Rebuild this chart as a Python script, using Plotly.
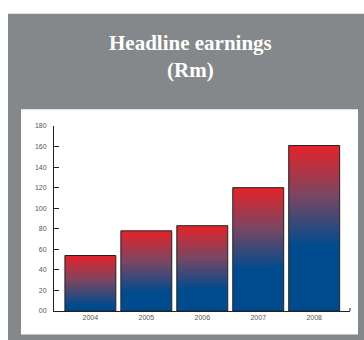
import plotly.graph_objects as go

# Headline earnings (Rm) per financial year
years = ["2004", "2005", "2006", "2007", "2008"]
earnings = [54, 78, 83, 120, 161]

y_ticks = [0, 20, 40, 60, 80, 100, 120, 140, 160, 180]
y_tick_text = ["00", "20", "40", "60", "80", "100", "120", "140", "160", "180"]

BAR_WIDTH = 0.91
RED = "#e52329"
PURPLE = "#7a4662"
BLUE = "#004b8d"
FRAME = "#85888b"

# plot area in pixels: x 54..350, y 125.7..311.4
PW, PH = 296, 185.7


def px_x(p):
    return (p - 54) / PW


def px_y(p):
    return (311.4 - p) / PH


fig = go.Figure()

for i, (yr, v) in enumerate(zip(years, earnings)):
    x0, x1 = i - BAR_WIDTH / 2, i + BAR_WIDTH / 2
    # the lower part of each bar stays solid blue, the gradient runs up to red at the top
    grad_start = max(0.0, 0.54 * v - 24)
    fig.add_trace(go.Scatter(
        x=[x0, x0, x1, x1, x0],
        y=[0, v, v, 0, 0],
        mode="lines",
        fill="toself",
        fillgradient=dict(
            type="vertical",
            colorscale=[[0, BLUE], [0.5, PURPLE], [1, RED]],
            start=grad_start,
            stop=v,
        ),
        line=dict(color="#222222", width=1),
        hoverinfo="skip",
        showlegend=False,
        name=yr,
    ))

# white margins above and left of the grey frame
fig.add_shape(type="rect", xref="paper", yref="paper", layer="below",
              x0=px_x(-20), x1=px_x(400), y0=px_y(13), y1=px_y(-20),
              fillcolor="#ffffff", line=dict(width=0))
fig.add_shape(type="rect", xref="paper", yref="paper", layer="below",
              x0=px_x(-20), x1=px_x(8), y0=px_y(400), y1=px_y(-20),
              fillcolor="#ffffff", line=dict(width=0))
# white chart panel
fig.add_shape(type="rect", xref="paper", yref="paper", layer="below",
              x0=px_x(21), x1=px_x(358), y0=px_y(335), y1=px_y(109),
              fillcolor="#ffffff", line=dict(width=0))
# small end tick on the category axis
fig.add_shape(type="line", xref="paper", yref="paper",
              x0=1, x1=1, y0=0, y1=3 / PH,
              line=dict(color="#222222", width=1))

title_font = dict(family="Liberation Serif, DejaVu Serif, serif", size=21, color="#ffffff")
fig.add_annotation(text="<b>Headline earnings</b>", xref="paper", yref="paper",
                   x=px_x(190), y=px_y(42),
                   showarrow=False, font=title_font, xanchor="center", yanchor="middle")
fig.add_annotation(text="<b>(Rm)</b>", xref="paper", yref="paper",
                   x=px_x(190), y=px_y(69),
                   showarrow=False, font=title_font, xanchor="center", yanchor="middle")

tick_font = dict(family="Liberation Sans, Arial, sans-serif", size=7, color="#555555")

fig.update_layout(
    width=364, height=340,
    margin=dict(l=54, r=14, t=125.7, b=28.6, pad=0),
    paper_bgcolor=FRAME,
    plot_bgcolor="rgba(0,0,0,0)",
    xaxis=dict(
        range=[-0.65, 4.64],
        tickmode="array", tickvals=list(range(len(years))), ticktext=years,
        showline=True, linecolor="#222222", linewidth=1,
        showgrid=False, zeroline=False, ticks="",
        tickfont=tick_font, fixedrange=True,
    ),
    yaxis=dict(
        range=[0, 180],
        tickmode="array", tickvals=y_ticks, ticktext=y_tick_text,
        showline=True, linecolor="#222222", linewidth=1,
        showgrid=False, zeroline=False,
        ticks="inside", ticklen=5, tickcolor="#222222", tickwidth=1,
        ticklabelstandoff=5,
        tickfont=tick_font, fixedrange=True,
    ),
)

fig.write_html("out.html")
